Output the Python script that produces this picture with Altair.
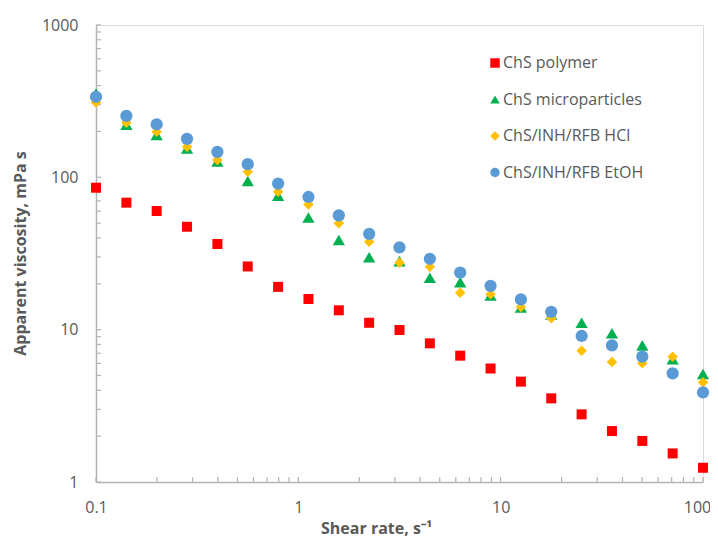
import altair as alt
import pandas as pd

shear_rate = [0.1, 0.1413, 0.1995, 0.2818, 0.3981, 0.5623, 0.7943, 1.122, 1.585, 2.239,
              3.162, 4.467, 6.31, 8.913, 12.59, 17.78, 25.12, 35.48, 50.12, 70.79, 100]

chs_polymer = [85.5, 68.2, 60.1, 47.4, 36.5, 26.0, 19.1, 15.9, 13.4, 11.1,
               9.95, 8.13, 6.75, 5.56, 4.56, 3.54, 2.78, 2.16, 1.86, 1.54, 1.24]
chs_micro = [355, 222, 190, 155, 127, 94.6, 75.8, 54.5, 38.8, 29.9,
             28.2, 21.9, 20.5, 16.8, 14.0, 12.6, 11.1, 9.47, 7.89, 6.39, 5.12]
chs_hcl = [310, 228, 199, 159, 130, 109, 80.5, 66.2, 49.9, 37.8,
           27.5, 25.9, 17.5, 17.1, 14.1, 11.9, 7.28, 6.13, 6.02, 6.65, 4.51]
chs_etoh = [338, 253, 223, 179, 147, 122, 91, 74.3, 56.3, 42.5,
            34.7, 29.2, 23.7, 19.4, 15.8, 13.1, 9.09, 7.89, 6.65, 5.17, 3.88]

series_names = ["ChS polymer", "ChS microparticles", "ChS/INH/RFB HCl", "ChS/INH/RFB EtOH"]
series_values = [chs_polymer, chs_micro, chs_hcl, chs_etoh]
series_colors = ["#FF0000", "#00B050", "#FFC000", "#5B9BD5"]
series_shapes = ["square", "triangle-up", "diamond", "circle"]
series_sizes = [100, 150, 110, 150]

x_ticks = [0.1, 1, 10, 100]
y_ticks = [1, 10, 100, 1000]
x_minor = [d * k for d in [0.1, 1, 10] for k in range(1, 10)] + [100]
y_minor = [d * k for d in [1, 10, 100] for k in range(1, 10)] + [1000]

rows = []
for name, vals, size in zip(series_names, series_values, series_sizes):
    for x, y in zip(shear_rate, vals):
        rows.append({"x": x, "y": y, "series": name, "size": size})
df = pd.DataFrame(rows)

GRAY = "#595959"
AX = "#b3b3b3"
W, H = 607, 457

xscale = alt.Scale(type="log", domain=[0.1, 100], nice=False)
yscale = alt.Scale(type="log", domain=[1, 1000], nice=False)

points = alt.Chart(df).mark_point(filled=True, opacity=1, strokeWidth=0).encode(
    x=alt.X("x:Q", scale=xscale,
            axis=alt.Axis(values=x_ticks, format="~g", ticks=False, grid=False,
                          domainColor=AX, domainWidth=1.5,
                          labelColor=GRAY, labelFontSize=16, labelFont="Open Sans",
                          labelPadding=17, labelFlush=False,
                          labelOffset={"condition": {"test": "datum.value >= 100", "value": -6},
                                       "value": 0},
                          title="Shear rate, s⁻¹", titleColor=GRAY, titleFontSize=16,
                          titleFont="Open Sans", titleFontWeight="bold",
                          titleX=280, titleY=46, titleBaseline="middle", titleAlign="center")),
    y=alt.Y("y:Q", scale=yscale,
            axis=alt.Axis(values=y_ticks, format="~g", ticks=False, grid=False,
                          domainColor=AX, domainWidth=1.5,
                          labelColor=GRAY, labelFontSize=16, labelFont="Open Sans",
                          labelPadding=18, labelFlush=False,
                          title="Apparent viscosity, mPa s", titleColor=GRAY, titleFontSize=16,
                          titleFont="Open Sans", titleFontWeight="bold",
                          titleX=-76, titleY=228, titleBaseline="middle", titleAlign="center",
                          titleAngle=270)),
    color=alt.Color("series:N", scale=alt.Scale(domain=series_names, range=series_colors),
                    legend=alt.Legend(title=None, orient="none", legendX=391, legendY=30,
                                      labelFont="Open Sans", labelFontSize=16, labelColor=GRAY,
                                      labelOffset=0, rowPadding=20.5, symbolSize=90,
                                      symbolStrokeWidth=0, padding=0)),
    shape=alt.Shape("series:N", scale=alt.Scale(domain=series_names, range=series_shapes),
                    legend=alt.Legend(title=None, orient="none", legendX=391, legendY=30)),
    size=alt.Size("size:Q", scale=None, legend=None),
)

xt = alt.Chart(pd.DataFrame({"v": x_minor})).mark_rule(color=AX, strokeWidth=1.2).encode(
    x=alt.X("v:Q", scale=xscale), y=alt.value(H), y2=alt.value(H - 5))
yt = alt.Chart(pd.DataFrame({"v": y_minor})).mark_rule(color=AX, strokeWidth=1.2).encode(
    y=alt.Y("v:Q", scale=yscale), x=alt.value(0), x2=alt.value(5))

chart = alt.layer(xt, yt, points).properties(
    width=W, height=H,
    autosize=alt.AutoSizeParams(type="none"),
    padding={"left": 88, "top": 17, "right": 7, "bottom": 55},
).configure_view(stroke=AX, strokeWidth=1.5).configure(background="white")

chart.save("out.html", embed_options={"renderer": "svg", "actions": False})
